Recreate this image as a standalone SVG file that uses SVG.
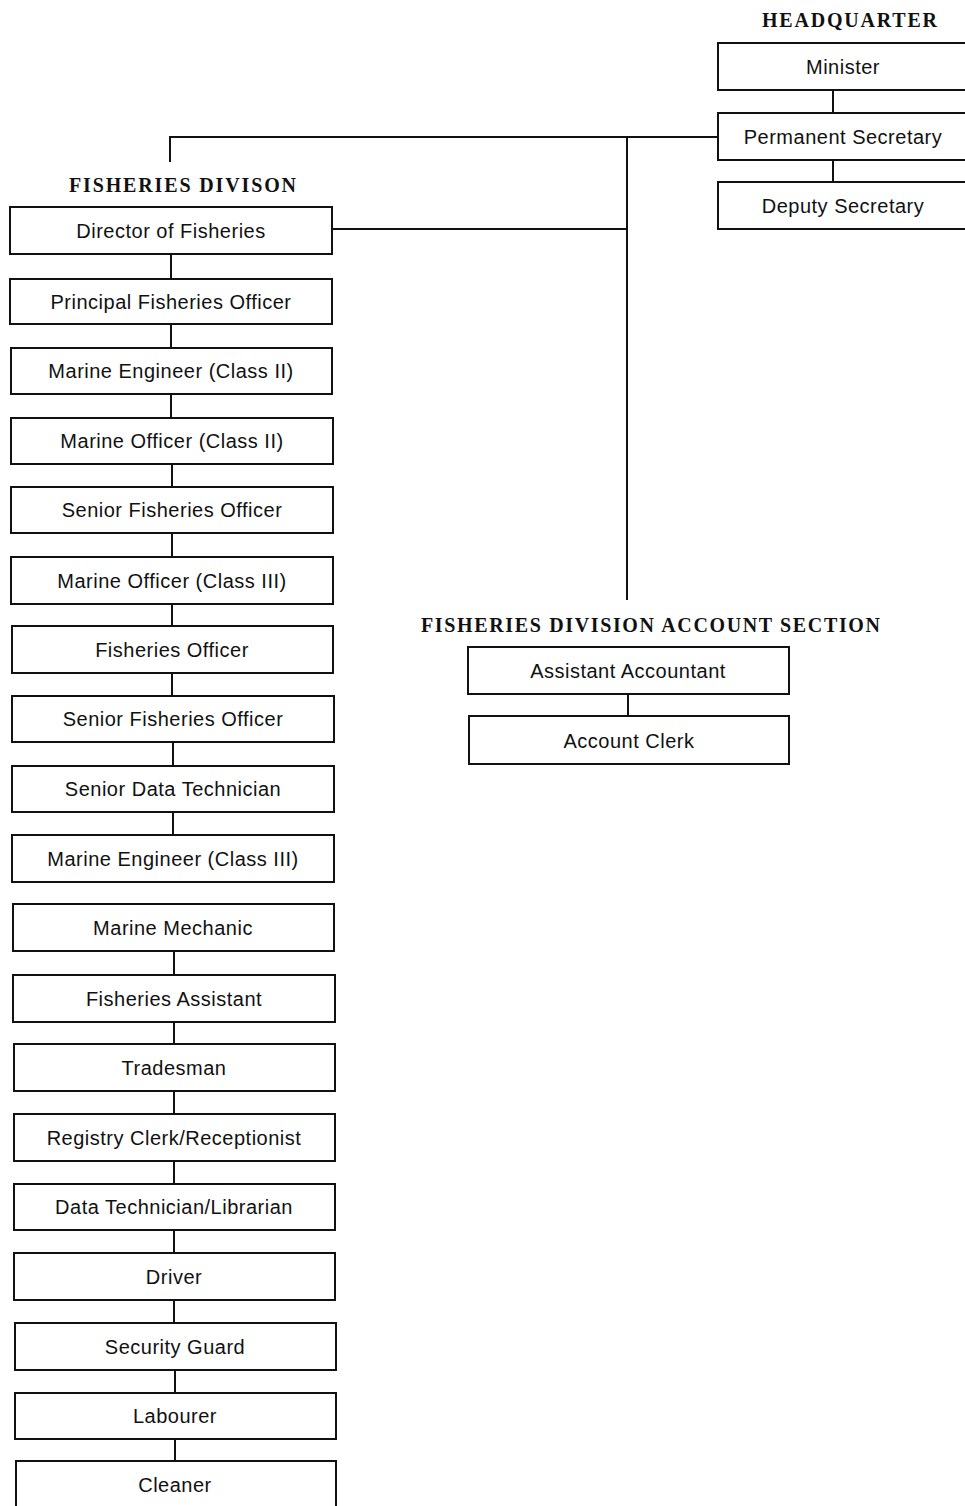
<svg xmlns="http://www.w3.org/2000/svg" width="965" height="1506" viewBox="0 0 965 1506">
<style>
.box{fill:#fff;stroke:#111;stroke-width:2}
.t{font-family:"Liberation Sans",Arial,sans-serif;font-size:20px;letter-spacing:0.5px;fill:#111;text-anchor:middle}
.h{font-family:"Liberation Serif","Times New Roman",serif;font-size:20px;font-weight:bold;fill:#111}
.c{stroke:#111;stroke-width:2;fill:none}
</style>
<rect width="965" height="1506" fill="#fff"/>
<g id="connectors">
<polyline class="c" points="170,162 170,137 718,137"/>
<line class="c" x1="627" y1="137" x2="627" y2="600"/>
<line class="c" x1="332" y1="229" x2="627" y2="229"/>
<line class="c" x1="833" y1="90" x2="833" y2="113"/>
<line class="c" x1="833" y1="160" x2="833" y2="182"/>
<line class="c" x1="628" y1="694" x2="628" y2="716"/>
<line class="c" x1="171" y1="254" x2="171" y2="279"/>
<line class="c" x1="171" y1="324" x2="171" y2="348"/>
<line class="c" x1="171" y1="394" x2="171" y2="418"/>
<line class="c" x1="172" y1="464" x2="172" y2="487"/>
<line class="c" x1="172" y1="533" x2="172" y2="557"/>
<line class="c" x1="172" y1="604" x2="172" y2="626"/>
<line class="c" x1="172" y1="673" x2="172" y2="696"/>
<line class="c" x1="173" y1="742" x2="173" y2="766"/>
<line class="c" x1="173" y1="812" x2="173" y2="835"/>
<line class="c" x1="174" y1="951" x2="174" y2="975"/>
<line class="c" x1="174" y1="1022" x2="174" y2="1044"/>
<line class="c" x1="174" y1="1091" x2="174" y2="1114"/>
<line class="c" x1="174" y1="1161" x2="174" y2="1184"/>
<line class="c" x1="174" y1="1230" x2="174" y2="1253"/>
<line class="c" x1="174" y1="1300" x2="174" y2="1323"/>
<line class="c" x1="175" y1="1370" x2="175" y2="1393"/>
<line class="c" x1="175" y1="1439" x2="175" y2="1461"/>
</g>
<text class="h" x="762" y="27" textLength="175" lengthAdjust="spacing">HEADQUARTER</text>
<text class="h" x="69" y="192" textLength="227" lengthAdjust="spacing">FISHERIES DIVISON</text>
<text class="h" x="421" y="632" textLength="459" lengthAdjust="spacing">FISHERIES DIVISION ACCOUNT SECTION</text>
<g id="minister"><rect class="box" x="718" y="43" width="250" height="47"/><text class="t" x="843" y="74">Minister</text></g>
<g id="permanent-secretary"><rect class="box" x="718" y="113" width="250" height="47"/><text class="t" x="843" y="144">Permanent Secretary</text></g>
<g id="deputy-secretary"><rect class="box" x="718" y="182" width="250" height="47"/><text class="t" x="843" y="213">Deputy Secretary</text></g>
<g id="assistant-accountant"><rect class="box" x="468" y="647" width="321" height="47"/><text class="t" x="628" y="678">Assistant Accountant</text></g>
<g id="account-clerk"><rect class="box" x="469" y="716" width="320" height="48"/><text class="t" x="629" y="748">Account Clerk</text></g>
<g id="director"><rect class="box" x="10" y="207" width="322" height="47"/><text class="t" x="171" y="238">Director of Fisheries</text></g>
<g id="principal-fo"><rect class="box" x="10" y="279" width="322" height="45"/><text class="t" x="171" y="309">Principal Fisheries Officer</text></g>
<g id="marine-engineer-2"><rect class="box" x="11" y="348" width="321" height="46"/><text class="t" x="171" y="378">Marine Engineer (Class II)</text></g>
<g id="marine-officer-2"><rect class="box" x="11" y="418" width="322" height="46"/><text class="t" x="172" y="448">Marine Officer (Class II)</text></g>
<g id="senior-fo-1"><rect class="box" x="11" y="487" width="322" height="46"/><text class="t" x="172" y="517">Senior Fisheries Officer</text></g>
<g id="marine-officer-3"><rect class="box" x="11" y="557" width="322" height="47"/><text class="t" x="172" y="588">Marine Officer (Class III)</text></g>
<g id="fisheries-officer"><rect class="box" x="12" y="626" width="321" height="47"/><text class="t" x="172" y="657">Fisheries Officer</text></g>
<g id="senior-fo-2"><rect class="box" x="12" y="696" width="322" height="46"/><text class="t" x="173" y="726">Senior Fisheries Officer</text></g>
<g id="senior-data-tech"><rect class="box" x="12" y="766" width="322" height="46"/><text class="t" x="173" y="796">Senior Data Technician</text></g>
<g id="marine-engineer-3"><rect class="box" x="12" y="835" width="322" height="47"/><text class="t" x="173" y="866">Marine Engineer (Class III)</text></g>
<g id="marine-mechanic"><rect class="box" x="13" y="904" width="321" height="47"/><text class="t" x="173" y="935">Marine Mechanic</text></g>
<g id="fisheries-assistant"><rect class="box" x="13" y="975" width="322" height="47"/><text class="t" x="174" y="1006">Fisheries Assistant</text></g>
<g id="tradesman"><rect class="box" x="14" y="1044" width="321" height="47"/><text class="t" x="174" y="1075">Tradesman</text></g>
<g id="registry-clerk"><rect class="box" x="14" y="1114" width="321" height="47"/><text class="t" x="174" y="1145">Registry Clerk/Receptionist</text></g>
<g id="data-tech-librarian"><rect class="box" x="14" y="1184" width="321" height="46"/><text class="t" x="174" y="1214">Data Technician/Librarian</text></g>
<g id="driver"><rect class="box" x="14" y="1253" width="321" height="47"/><text class="t" x="174" y="1284">Driver</text></g>
<g id="security-guard"><rect class="box" x="15" y="1323" width="321" height="47"/><text class="t" x="175" y="1354">Security Guard</text></g>
<g id="labourer"><rect class="box" x="15" y="1393" width="321" height="46"/><text class="t" x="175" y="1423">Labourer</text></g>
<g id="cleaner"><rect class="box" x="16" y="1461" width="320" height="50"/><text class="t" x="175" y="1492">Cleaner</text></g>
</svg>
